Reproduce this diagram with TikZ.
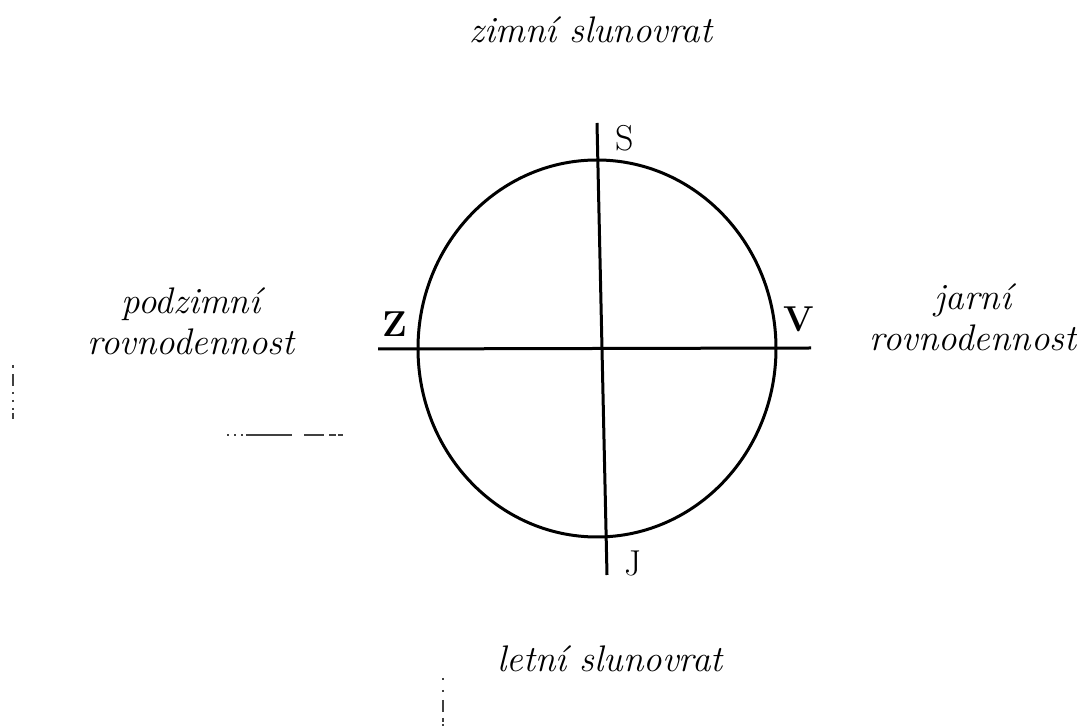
\documentclass[tikz,border=0pt]{standalone}
\usepackage{tikz}
\usetikzlibrary{positioning}

\begin{document}
\begin{tikzpicture}[
  x=0.5pt, y=-0.5pt,
  orbit/.style={line width=1.5pt, black},
  axis/.style={line width=1.5pt, black},
  season/.style={font=\fontsize{18.5}{20.5}\selectfont\itshape, align=center, inner sep=0pt, anchor=base},
  point/.style={font=\fontsize{18}{18}\selectfont, inner sep=0pt},
  smudge/.style={line width=0.7pt, black!75},
]
\useasboundingbox (0,0) rectangle (1077,726);

% circle of the year
\coordinate (O) at (597,348.5);
\draw[orbit] (O) ellipse [x radius=179, y radius=188.5];

% the two axes
\coordinate (top)   at (597,123);
\coordinate (bot)   at (607,575);
\coordinate (west)  at (378,349);
\coordinate (east)  at (811,348);
\draw[axis] (top) -- (bot);
\draw[axis] (west) -- (east);

% points on the circle
\node[point] (S) at (625,138) {S};
\node[point, font=\fontsize{18}{18}\selectfont\bfseries] (Z) at (395,324) {Z};
\node[point, font=\fontsize{18}{18}\selectfont\bfseries] (V) at (799,319) {V};
\node[point] (J) at (633,563) {J};

% seasons
\node[season] (winter) at (591,43)  {zimní slunovrat};
\node[season] (summer) at (610,672) {letní slunovrat};
\node[season] (autumn) at (191,355) {podzimní\\rovnodennost};
\node[season] (spring) at (973,351) {jarní\\rovnodennost};

% scan marks
\draw[smudge, dash pattern=on 1pt off 2.5pt on 1pt off 2.5pt on 1pt off 1.5pt on 23pt off 6pt on 10pt off 2.5pt on 3.5pt]
  (227,435) -- (345,435);
\draw[smudge, dash pattern=on 1.5pt off 3pt on 6pt off 3pt on 1pt off 3pt on 1pt off 3pt on 1pt]
  (13,365) -- (13,423);
\draw[smudge, dash pattern=on 1pt off 5pt on 1pt off 4pt on 6pt off 3pt on 2pt]
  (443,678) -- (443,726);

\end{tikzpicture}
\end{document}
